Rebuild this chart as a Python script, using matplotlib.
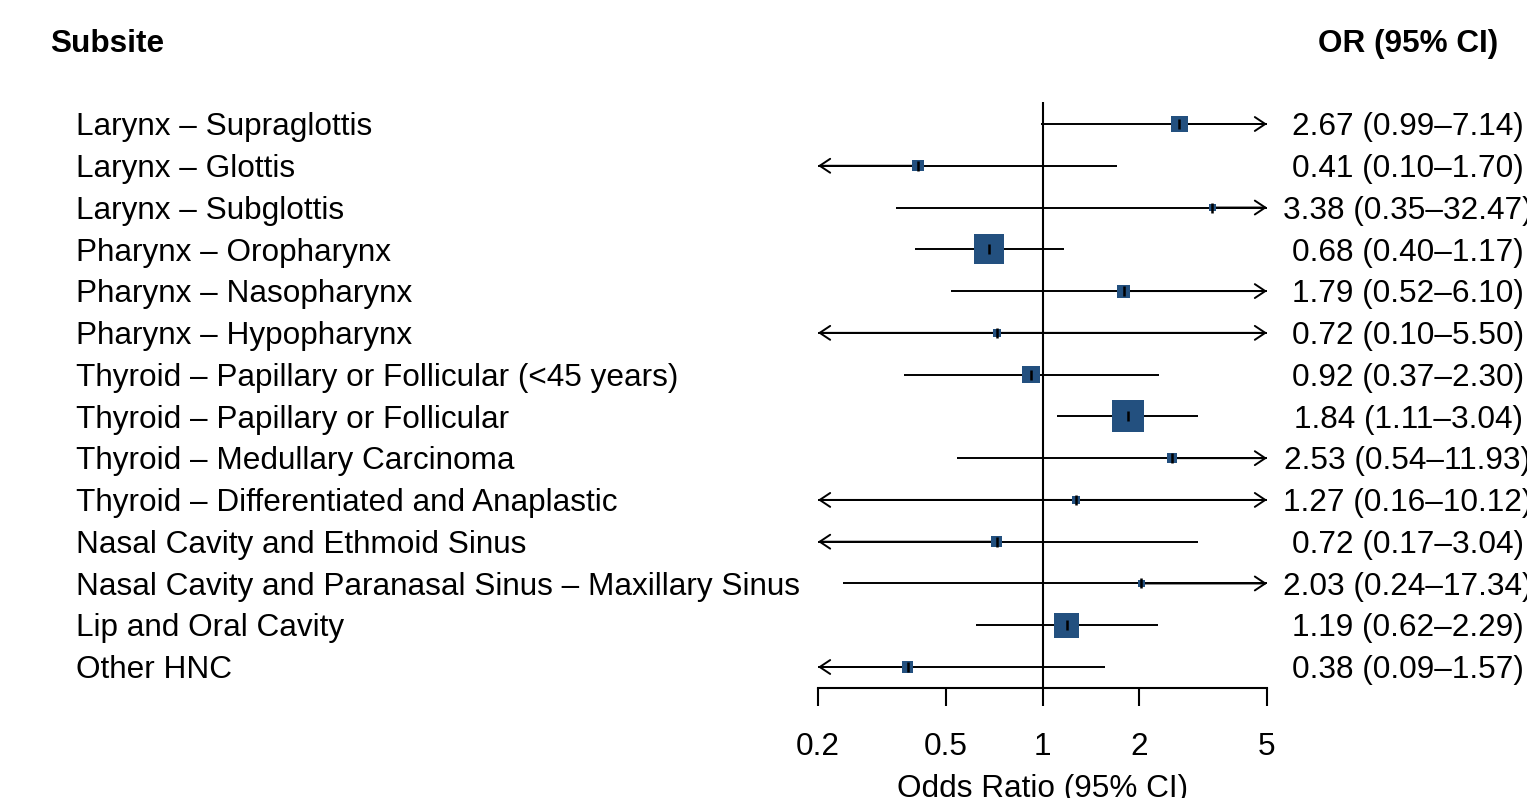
import numpy as np
import matplotlib
matplotlib.use("Agg")
import matplotlib.pyplot as plt
from matplotlib.transforms import blended_transform_factory

plt.rcParams['font.family'] = ['Liberation Sans', 'DejaVu Sans']

subsites = [
    "Larynx \u2013 Supraglottis",
    "Larynx \u2013 Glottis",
    "Larynx \u2013 Subglottis",
    "Pharynx \u2013 Oropharynx",
    "Pharynx \u2013 Nasopharynx",
    "Pharynx \u2013 Hypopharynx",
    "Thyroid \u2013 Papillary or Follicular (<45 years)",
    "Thyroid \u2013 Papillary or Follicular",
    "Thyroid \u2013 Medullary Carcinoma",
    "Thyroid \u2013 Differentiated and Anaplastic",
    "Nasal Cavity and Ethmoid Sinus",
    "Nasal Cavity and Paranasal Sinus \u2013 Maxillary Sinus",
    "Lip and Oral Cavity",
    "Other HNC",
]
odds_ratio = [2.67, 0.41, 3.38, 0.68, 1.79, 0.72, 0.92, 1.84, 2.53, 1.27, 0.72, 2.03, 1.19, 0.38]
ci_low = [0.99, 0.10, 0.35, 0.40, 0.52, 0.10, 0.37, 1.11, 0.54, 0.16, 0.17, 0.24, 0.62, 0.09]
ci_high = [7.14, 1.70, 32.47, 1.17, 6.10, 5.50, 2.30, 3.04, 11.93, 10.12, 3.04, 17.34, 2.29, 1.57]
x_ticks = [0.2, 0.5, 1, 2, 5]
x_tick_labels = ["0.2", "0.5", "1", "2", "5"]

W, H = 1527, 798
DPI = 100
FS = 22.7
fig = plt.figure(figsize=(W / DPI, H / DPI), dpi=DPI)

x0, x1 = 818, 1267
ytop, ybot = 102, 688
row0, dy = 124, 41.77
ax = fig.add_axes([x0 / W, 1 - ybot / H, (x1 - x0) / W, (ybot - ytop) / H])
xmin, xmax = 0.2, 5
ax.set_xscale('log')
ax.set_xlim(xmin, xmax)
n = len(subsites)
ax.set_ylim((ybot - row0) / dy, (ytop - row0) / dy)
for s in ['top', 'right', 'left']:
    ax.spines[s].set_visible(False)
ax.spines['bottom'].set_linewidth(1.5)
ax.set_yticks([])
ax.set_xticks(x_ticks)
ax.set_xticklabels(x_tick_labels)
ax.minorticks_off()
ax.tick_params(axis='x', length=13, width=1.5, direction='out', pad=19, labelsize=FS)
ax.patch.set_visible(False)

ax.axvline(1, color='black', lw=1.5, zorder=1)

color = '#23507f'
ors = np.array(odds_ratio)
lo = np.array(ci_low)
hi = np.array(ci_high)
se = (np.log(hi) - np.log(lo)) / (2 * 1.96)
w_px = 8.2 / se
ys = np.arange(n)

lw = 1.4
for i in range(n):
    y = ys[i]
    a = max(lo[i], xmin)
    b = min(hi[i], xmax)
    left_arrow = lo[i] < xmin
    right_arrow = hi[i] > xmax
    ax.plot([a, b], [y, y], color='black', lw=lw, zorder=2, solid_capstyle='butt')
    astyle = '->,head_length=0.75,head_width=0.5'
    if right_arrow:
        ax.annotate('', xy=(xmax, y), xytext=(ors[i], y),
                    arrowprops=dict(arrowstyle=astyle, lw=lw, color='black',
                                    shrinkA=0, shrinkB=0, mutation_scale=10), zorder=2)
    if left_arrow:
        ax.annotate('', xy=(xmin, y), xytext=(ors[i], y),
                    arrowprops=dict(arrowstyle=astyle, lw=lw, color='black',
                                    shrinkA=0, shrinkB=0, mutation_scale=10), zorder=2)

ax.scatter(ors, ys, s=(w_px * 0.72) ** 2, marker='s', color=color, zorder=3,
           linewidths=0, clip_on=False)
ax.scatter(ors, ys, s=(10 * 0.72) ** 2, marker='|', color='black', zorder=4,
           linewidths=1.8, clip_on=False)

tr = blended_transform_factory(fig.transFigure, ax.transData)
base_off = 11.2 / dy  # baseline offset below row centre (data units)
for i in range(n):
    ax.text(76 / W, ys[i] + base_off, subsites[i], transform=tr, ha='left', va='baseline',
            fontsize=FS, clip_on=False)
    txt = f"{ors[i]:.2f} ({lo[i]:.2f}\u2013{hi[i]:.2f})"
    ax.text(1408 / W, ys[i] + base_off, txt, transform=tr, ha='center', va='baseline',
            fontsize=FS, clip_on=False)

fig.text(50 / W, 1 - 52 / H, "Subsite", ha='left', va='baseline', fontsize=FS, fontweight='bold')
fig.text(1408 / W, 1 - 52 / H, "OR (95% CI)", ha='center', va='baseline', fontsize=FS, fontweight='bold')
fig.text(1043 / W, 1 - 797 / H, "Odds Ratio (95% CI)", ha='center', va='baseline', fontsize=FS)

fig.savefig('out.png', dpi=DPI)
